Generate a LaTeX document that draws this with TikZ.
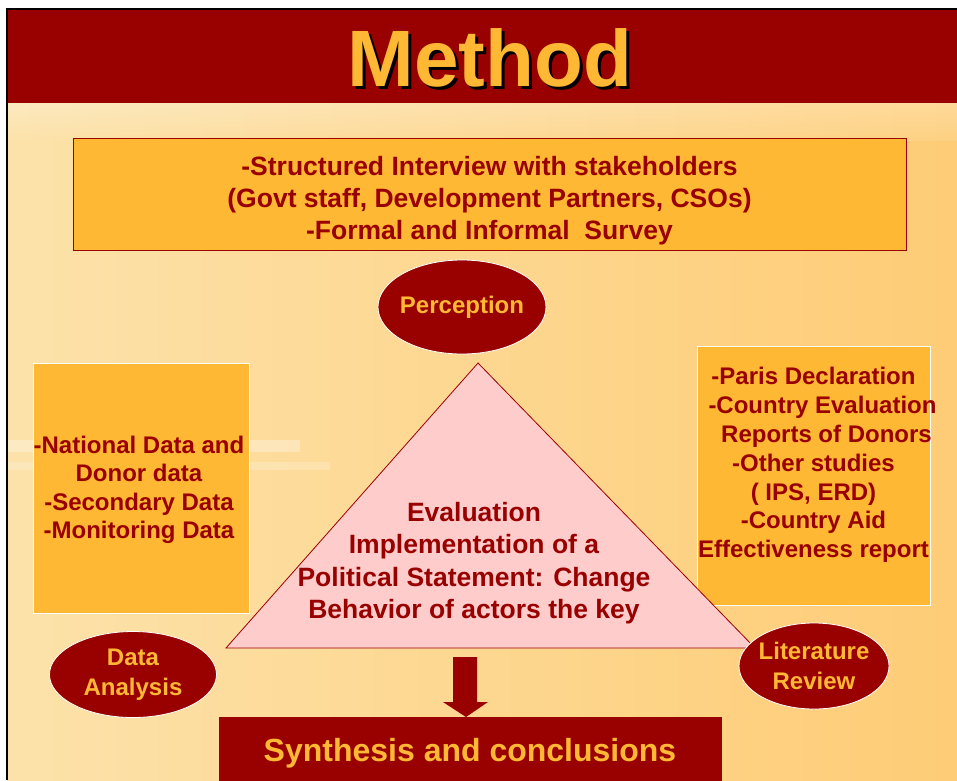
\documentclass[tikz,border=0pt]{standalone}
\usepackage{fontspec}
\setmainfont{Liberation Sans}
\usetikzlibrary{positioning,shapes.geometric}
\definecolor{maroon}{RGB}{153,0,0}
\definecolor{gold}{RGB}{255,184,51}
\definecolor{sandlight}{RGB}{252,226,170}
\definecolor{sanddark}{RGB}{254,204,118}
\definecolor{pinkfill}{RGB}{255,204,204}
\tikzset{
  box/.style={fill=gold, inner sep=0pt},
  boxtext/.style={align=center, text=maroon, inner sep=0pt},
  oval/.style={ellipse, fill=maroon, draw=white, line width=0.8pt, inner sep=0pt},
  ovaltext/.style={align=center, text=gold, inner sep=0pt, font=\bfseries\fontsize{24}{29.5}\selectfont}
}

\begin{document}
\begin{tikzpicture}[x=1pt,y=-1pt]
\useasboundingbox (0,0) rectangle (957,780);
% Background
\fill[white] (0,0) rectangle (957,780);
\shade[left color=sandlight, right color=sanddark] (7,103) rectangle (957,780);
\shade[top color=white, bottom color=sandlight, opacity=0.25] (7,103) rectangle (957,140);
\fill[white, opacity=0.3] (7,440) rectangle (300,452);
\fill[white, opacity=0.2] (7,462) rectangle (330,470);
% Title bar
\fill[maroon] (7,9) rectangle (957,103);
\draw[line width=2.5pt] (957,9) -- (7,9) -- (7,780);
\node[font=\bfseries\fontsize{80}{80}\selectfont, text=gold] (title) at (490,59)
  {\rlap{\hspace{3pt}\raisebox{-3pt}{\textcolor{black}{Method}}}Method};
% Top box
\node[box, draw=maroon, line width=0.6pt, minimum width=833pt, minimum height=112pt] (survey) at (489.5,194) {};
\node[boxtext, font=\bfseries\fontsize{26.5}{32}\selectfont] (surveytext) at (489.5,201)
  {-Structured Interview with stakeholders\\(Govt staff, Development Partners, CSOs)\\-Formal and Informal\ \ Survey};
\node[oval, minimum width=168pt, minimum height=94pt] (perception) at (462,307) {};
\node[ovaltext] at (perception) {Perception};
% Side boxes
\node[box, draw=white, line width=0.6pt, minimum width=216pt, minimum height=250pt] (data) at (141,488) {};
\node[boxtext, font=\bfseries\fontsize{24}{28.5}\selectfont] (datatext) at (139,490)
  {-National Data and\\Donor data\\-Secondary Data\\-Monitoring Data};
\node[box, draw=white, line width=0.6pt, minimum width=233pt, minimum height=259pt] (literature) at (813.5,475.5) {};
\node[boxtext, font=\bfseries\fontsize{24}{28.8}\selectfont] (literaturetext) at (813.5,465)
  {-Paris Declaration\\\hspace*{18pt}-Country Evaluation\\\hspace*{26pt}Reports of Donors\\-Other studies\\( IPS, ERD)\\-Country Aid\\Effectiveness report};
% Triangle
\coordinate (apex) at (478,363);
\coordinate (baseright) at (755,648);
\coordinate (baseleft) at (226,648);
\filldraw[fill=pinkfill, draw=maroon, line width=0.8pt] (apex) -- (baseright) -- (baseleft) -- cycle;
\node[boxtext, font=\bfseries\fontsize{26.5}{32.5}\selectfont] (evaluation) at (474,563)
  {Evaluation\\Implementation of a\\Political Statement: Change\\Behavior of actors the key};
% Corner ovals
\node[oval, minimum width=167pt, minimum height=86pt] (analysis) at (133,674.5) {};
\node[ovaltext] at (analysis) {Data\\Analysis};
\node[oval, minimum width=150pt, minimum height=86pt] (review) at (814,666) {};
\node[ovaltext] at (review) {Literature\\Review};
% Block arrow
\fill[maroon] (453,657) -- (477,657) -- (477,702) -- (488,702) -- (466,717) -- (443,702) -- (453,702) -- cycle;
% Synthesis box
\node[fill=maroon, inner sep=0pt, minimum width=503pt, minimum height=66pt] (synthesis) at (470,750) {};
\node[text=gold, inner sep=0pt, font=\bfseries\fontsize{32}{32}\selectfont] (synthesistext) at (470,753) {Synthesis and conclusions};
\end{tikzpicture}
\end{document}
